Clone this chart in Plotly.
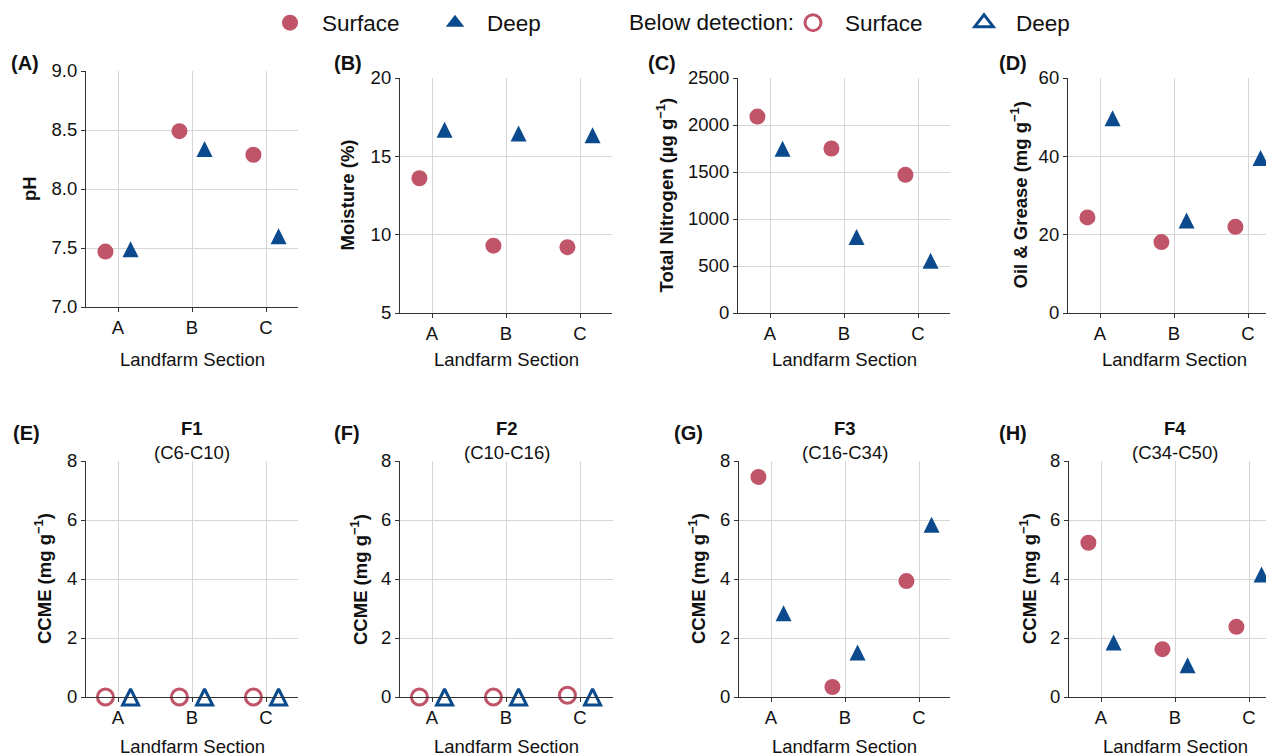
import plotly.graph_objects as go

# ---------------- data ----------------
categories = ["A", "B", "C"]

ph_surface = [7.47, 8.49, 8.29]
ph_deep = [7.49, 8.34, 7.60]

moisture_surface = [13.6, 9.3, 9.2]
moisture_deep = [16.7, 16.45, 16.35]

tn_surface = [2090, 1750, 1470]
tn_deep = [1748, 808, 555]

og_surface = [24.4, 18.1, 22.0]
og_deep = [49.7, 23.6, 39.6]

f1_surface = [0.0, 0.0, 0.0]
f1_deep = [0.0, 0.0, 0.0]
f2_surface = [0.0, 0.0, 0.06]
f2_deep = [0.0, 0.0, 0.0]
f3_surface = [7.46, 0.34, 3.93]
f3_deep = [2.84, 1.51, 5.84]
f4_surface = [5.23, 1.62, 2.38]
f4_deep = [1.85, 1.08, 4.15]

panel_letters = ["(A)", "(B)", "(C)", "(D)", "(E)", "(F)", "(G)", "(H)"]
fraction_titles = ["F1", "F2", "F3", "F4"]
fraction_ranges = ["(C6-C10)", "(C10-C16)", "(C16-C34)", "(C34-C50)"]
y_titles = ["pH", "Moisture (%)", "Total Nitrogen (µg g<sup>−1</sup>)",
            "Oil &amp; Grease (mg g<sup>−1</sup>)",
            "CCME (mg g<sup>−1</sup>)", "CCME (mg g<sup>−1</sup>)",
            "CCME (mg g<sup>−1</sup>)", "CCME (mg g<sup>−1</sup>)"]

panels = [
    dict(s=ph_surface, d=ph_deep, yr=[7.0, 9.0], dt=0.5, fmt=".1f", bd=False),
    dict(s=moisture_surface, d=moisture_deep, yr=[5, 20], dt=5, fmt="d", bd=False),
    dict(s=tn_surface, d=tn_deep, yr=[0, 2500], dt=500, fmt="d", bd=False),
    dict(s=og_surface, d=og_deep, yr=[0, 60], dt=20, fmt="d", bd=False),
    dict(s=f1_surface, d=f1_deep, yr=[0, 8], dt=2, fmt="d", bd=True),
    dict(s=f2_surface, d=f2_deep, yr=[0, 8], dt=2, fmt="d", bd=True),
    dict(s=f3_surface, d=f3_deep, yr=[0, 8], dt=2, fmt="d", bd=False),
    dict(s=f4_surface, d=f4_deep, yr=[0, 8], dt=2, fmt="d", bd=False),
]

# ---------------- layout geometry (screen pixels; page body has an 8px margin) ----------------
PAGE_OFF = 8
W, H = 1274 - PAGE_OFF, 756 - PAGE_OFF
x_px = [(86, 298), (400, 612), (738, 950), (1068, 1280),
        (86, 298), (400, 613), (739, 950), (1069, 1281)]
y_px = [(71, 307), (78, 313), (78, 313), (78, 313),
        (461, 697), (461, 697), (461, 697), (461, 697)]
letter_px = [(25, 63), (348, 63), (662, 63), (1013, 63),
             (26, 433), (347, 433), (688, 433), (1013, 433)]
ytitle_x = [30, 347, 665, 1019, 43, 359, 697, 1028]

CAT_SPACING = 74.0
CAT_PAD = 32.0
OFFSET = 0.17

SURF = "#C05468"
DEEP = "#0B4A8C"
FONT = "Liberation Sans, Arial, Helvetica, sans-serif"
GRID = "#D6D6D6"
AXC = "#333333"
MS = 16

def px2x(p):
    return (p - PAGE_OFF) / W

def px2y(p):
    return 1 - (p - PAGE_OFF) / H

fig = go.Figure()
annotations = []

def ann(text, xp, yp, size, angle=0, xanchor="center"):
    annotations.append(dict(text=text, x=px2x(xp), y=px2y(yp), xref="paper", yref="paper",
                            xanchor=xanchor, yanchor="middle", showarrow=False,
                            textangle=angle, font=dict(family=FONT, size=size, color="#111")))

tri = dict(symbol="arrow-down", angle=180, standoff=MS / 2, size=MS)
tri_open = dict(symbol="arrow-down-open", angle=180, standoff=MS / 2, size=MS,
                line=dict(color=DEEP, width=3))

for i, p in enumerate(panels):
    k = "" if i == 0 else str(i + 1)
    xa, ya = "x" + k, "y" + k
    xs = [j - OFFSET for j in range(len(categories))]
    xd = [j + OFFSET for j in range(len(categories))]
    if p["bd"]:
        ms = dict(symbol="circle-open", size=MS, color=SURF, line=dict(color=SURF, width=3))
        md = dict(color=DEEP, **tri_open)
    else:
        ms = dict(symbol="circle", size=MS, color=SURF, line=dict(width=0))
        md = dict(color=DEEP, line=dict(width=0), **tri)
    fig.add_trace(go.Scatter(x=xs, y=p["s"], mode="markers", marker=ms, xaxis=xa, yaxis=ya,
                             showlegend=False, cliponaxis=False, hoverinfo="y"))
    fig.add_trace(go.Scatter(x=xd, y=p["d"], mode="markers", marker=md, xaxis=xa, yaxis=ya,
                             showlegend=False, cliponaxis=False, hoverinfo="y"))

    x0, x1 = x_px[i]
    y0, y1 = y_px[i]
    x1c = min(x1, PAGE_OFF + W)
    width_units = (x1c - x0) / CAT_SPACING
    xr = [-CAT_PAD / CAT_SPACING, -CAT_PAD / CAT_SPACING + width_units]
    axis_common = dict(showline=True, linecolor=AXC, linewidth=1.2, ticks="outside",
                       ticklen=4, tickwidth=1.2, tickcolor=AXC, showgrid=True,
                       gridcolor=GRID, gridwidth=1, zeroline=False, automargin=False,
                       tickfont=dict(family=FONT, size=18.5, color="#111"))
    fig.layout["xaxis" + k] = dict(domain=[px2x(x0), px2x(x1c)], range=xr, anchor=ya,
                                   tickmode="array", tickvals=list(range(len(categories))),
                                   ticktext=categories, **axis_common)
    fig.layout["yaxis" + k] = dict(domain=[px2y(y1), px2y(y0)], range=p["yr"], anchor=xa,
                                   dtick=p["dt"], tick0=p["yr"][0], tickformat=p["fmt"],
                                   **axis_common)

    xc = (x0 + x1) / 2
    lx, ly = letter_px[i]
    ann("<b>%s</b>" % panel_letters[i], lx, ly, 20)
    ann("<b>%s</b>" % y_titles[i], ytitle_x[i], (y0 + y1) / 2, 18.5, -90)
    ann("Landfarm Section", xc, 359 if i < 4 else 746, 18.5)
    if i >= 4:
        ann("<b>%s</b>" % fraction_titles[i - 4], xc, 428, 18.5)
        ann(fraction_ranges[i - 4], xc, 452, 18.5)

leg_font = dict(family=FONT, size=22.5, color="#111")
ann("Below detection:", 627, 23, 22.5, xanchor="left")

# legend entries
fig.add_trace(go.Scatter(x=[None], y=[None], mode="markers", name="Surface",
                         marker=dict(symbol="circle", size=MS, color=SURF), legend="legend"))
fig.add_trace(go.Scatter(x=[None], y=[None], mode="markers", name="Deep",
                         marker=dict(symbol="triangle-up", size=MS, color=DEEP,
                                     line=dict(width=0)), legend="legend"))
fig.add_trace(go.Scatter(x=[None], y=[None], mode="markers", name="Surface",
                         marker=dict(symbol="circle-open", size=MS, color=SURF,
                                     line=dict(color=SURF, width=3)), legend="legend2"))
fig.add_trace(go.Scatter(x=[None], y=[None], mode="markers", name="Deep",
                         marker=dict(symbol="triangle-up-open", size=MS, color=DEEP,
                                     line=dict(color=DEEP, width=3)), legend="legend2"))

fig.update_layout(
    width=W, height=H, margin=dict(l=0, r=0, t=0, b=0, autoexpand=False),
    paper_bgcolor="white", plot_bgcolor="white",
    annotations=annotations,
    showlegend=True,
    legend=dict(orientation="h", x=px2x(258), xanchor="left", y=px2y(23), yanchor="middle",
                font=leg_font, entrywidth=96, entrywidthmode="pixels", itemwidth=54,
                bgcolor="rgba(0,0,0,0)"),
    legend2=dict(orientation="h", x=px2x(781), xanchor="left", y=px2y(23), yanchor="middle",
                 font=leg_font, entrywidth=102, entrywidthmode="pixels", itemwidth=54,
                 bgcolor="rgba(0,0,0,0)"),
)

fig.write_html("out.html")
